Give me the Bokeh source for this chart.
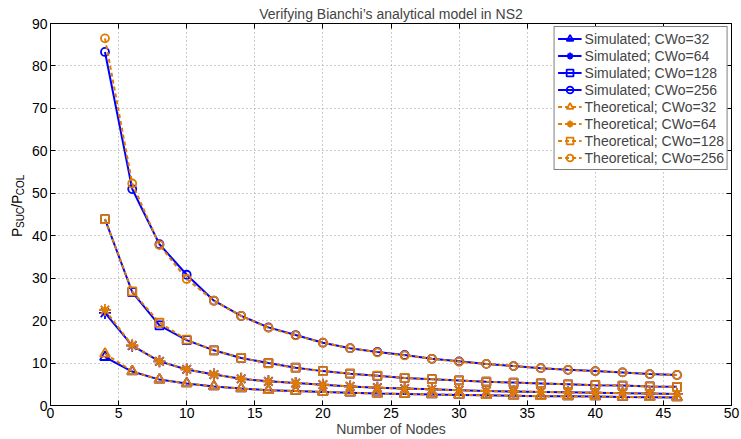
import math
from bokeh.plotting import figure
from bokeh.models import (Range1d, LinearAxis, Legend, LegendItem, FixedTicker)
from bokeh.layouts import row
from bokeh.core.properties import value
from bokeh.embed import file_html
from bokeh.resources import INLINE

nodes = [4, 6, 8, 10, 12, 14, 16, 18, 20, 22, 24, 26, 28, 30, 32, 34, 36, 38, 40, 42, 44, 46]

sim_32 = [11.4, 8.0, 6.1, 5.2, 4.5, 4.0, 3.6, 3.4, 3.2, 3.0, 2.8, 2.7, 2.6, 2.5, 2.4, 2.3, 2.2, 2.15, 2.1, 2.0, 1.95, 1.9]
sim_64 = [21.8, 14.1, 10.4, 8.5, 7.3, 6.3, 5.7, 5.3, 4.9, 4.5, 4.2, 4.0, 3.8, 3.6, 3.4, 3.3, 3.2, 3.1, 3.0, 2.9, 2.8, 2.7]
sim_128 = [43.9, 26.7, 18.9, 15.4, 13.0, 11.2, 10.0, 8.9, 8.1, 7.5, 7.0, 6.5, 6.2, 5.9, 5.6, 5.4, 5.2, 5.0, 4.8, 4.7, 4.5, 4.4]
sim_256 = [83.3, 51.0, 38.0, 30.8, 24.7, 21.1, 18.4, 16.6, 14.8, 13.5, 12.6, 11.9, 11.0, 10.4, 9.8, 9.3, 8.8, 8.4, 8.1, 7.8, 7.4, 7.2]

th_32 = [12.2, 8.1, 6.1, 5.2, 4.5, 4.0, 3.6, 3.4, 3.2, 3.0, 2.8, 2.7, 2.6, 2.5, 2.4, 2.3, 2.2, 2.15, 2.1, 2.0, 1.95, 1.9]
th_64 = [22.5, 14.2, 10.4, 8.5, 7.3, 6.3, 5.7, 5.3, 4.9, 4.5, 4.2, 4.0, 3.8, 3.6, 3.4, 3.3, 3.2, 3.1, 3.0, 2.9, 2.8, 2.7]
th_128 = [43.9, 26.9, 19.5, 15.5, 13.0, 11.2, 9.95, 8.85, 8.1, 7.5, 7.05, 6.5, 6.2, 5.9, 5.6, 5.4, 5.2, 5.0, 4.8, 4.7, 4.5, 4.4]
th_256 = [86.5, 52.3, 37.8, 29.8, 24.7, 21.1, 18.3, 16.5, 14.8, 13.5, 12.5, 11.8, 11.0, 10.3, 9.8, 9.3, 8.8, 8.4, 8.1, 7.8, 7.4, 7.2]

x_ticks = [0, 5, 10, 15, 20, 25, 30, 35, 40, 45, 50]
y_ticks = [0, 10, 20, 30, 40, 50, 60, 70, 80, 90]

title_text = "Verifying Bianchi\u2019s analytical model in NS2"
x_label = "Number of Nodes"
y_label_parts = ["P", "SUC", "/P", "COL"]

FONT = "Liberation Sans"
BLUE = "#0000ff"
ORANGE = "#e07b00"

# ---- y label strip (rotated, with subscripts) ----
yl = figure(width=28, height=439, output_backend="svg", toolbar_location=None,
            x_range=Range1d(0, 28), y_range=Range1d(0, 439),
            min_border=0, min_border_left=0, min_border_right=0,
            min_border_top=0, min_border_bottom=0)
yl.axis.visible = False
yl.grid.visible = False
yl.outline_line_color = None
yl.background_fill_color = "white"
yl.border_fill_color = "white"

sizes = ["14px", "10px", "14px", "10px"]
ems = [0.667, 2.111, 0.945, 2.056]
shift = [0, 4, 0, 4]
px = [14, 10, 14, 10]
widths = [e * s * 1.1 for e, s in zip(ems, px)]
total = sum(widths)
pos = 229 - total / 2
for t, fs, w, sh in zip(y_label_parts, sizes, widths, shift):
    yl.text(x=[16 + sh], y=[pos], text=[t], text_font=value(FONT),
            text_font_size=fs, angle=math.pi / 2, text_align="left",
            text_baseline="alphabetic", text_color="black")
    pos += w

# ---- main plot ----
p = figure(width=713, height=439, output_backend="svg", toolbar_location=None,
           x_range=Range1d(0, 50), y_range=Range1d(0, 90),
           min_border_left=22, min_border_right=10, min_border_top=23,
           min_border_bottom=0, background_fill_color="white",
           border_fill_color="white")
p.title.text = title_text
p.title.text_font = FONT
p.title.text_font_size = "14px"
p.title.text_font_style = "normal"
p.title.align = "center"
p.title.standoff = 4
p.title.offset = 0

p.outline_line_color = "black"
p.outline_line_width = 1

for ax in p.xaxis + p.yaxis:
    ax.major_tick_in = 5
    ax.major_tick_out = 0
    ax.minor_tick_line_color = None
    ax.axis_line_color = "black"
    ax.major_label_text_font = FONT
    ax.major_label_text_font_size = "14px"
    ax.major_label_text_color = "black"
    ax.major_label_standoff = 3
p.xaxis.ticker = FixedTicker(ticks=x_ticks)
p.yaxis.ticker = FixedTicker(ticks=y_ticks)
p.xaxis.axis_label = x_label
p.xaxis.axis_label_text_font = FONT
p.xaxis.axis_label_text_font_size = "14px"
p.xaxis.axis_label_text_font_style = "normal"
p.xaxis.axis_label_standoff = 0
p.xaxis.major_label_standoff = 2

top_ax = LinearAxis(ticker=FixedTicker(ticks=x_ticks), major_label_text_font_size="0px",
                    major_tick_in=5, major_tick_out=0, minor_tick_line_color=None,
                    major_label_standoff=0)
right_ax = LinearAxis(ticker=FixedTicker(ticks=y_ticks), major_label_text_font_size="0px",
                      major_tick_in=5, major_tick_out=0, minor_tick_line_color=None,
                      major_label_standoff=0)
top_ax.major_label_text_color = None
right_ax.major_label_text_color = None
p.add_layout(top_ax, "above")
p.add_layout(right_ax, "right")

p.xgrid.ticker = FixedTicker(ticks=x_ticks)
p.ygrid.ticker = FixedTicker(ticks=y_ticks)
for g in p.xgrid + p.ygrid:
    g.grid_line_color = "#9a9a9a"
    g.grid_line_dash = "1 3"
    g.grid_line_width = 1

markers = ["triangle", "asterisk", "square", "circle"]
msize = {"triangle": 10, "asterisk": 12, "square": 8, "circle": 8}
sims = [sim_32, sim_64, sim_128, sim_256]
ths = [th_32, th_64, th_128, th_256]
cws = ["32", "64", "128", "256"]

sim_items = []
th_items = []
for m, ys, cw in zip(markers, sims, cws):
    l = p.line(nodes, ys, line_color=BLUE, line_width=2)
    s = p.scatter(nodes, ys, marker=m, size=msize[m], line_color=BLUE, line_width=1.8,
                  fill_color=None)
    sim_items.append(LegendItem(label="Simulated; CWo=" + cw, renderers=[l, s]))
for m, ys, cw in zip(markers, ths, cws):
    l = p.line(nodes, ys, line_color=ORANGE, line_width=2, line_dash="4 3")
    s = p.scatter(nodes, ys, marker=m, size=msize[m], line_color=ORANGE, line_width=1.8,
                  fill_color=None)
    th_items.append(LegendItem(label="Theoretical; CWo=" + cw, renderers=[l, s]))

legend = Legend(items=sim_items + th_items, location="top_right",
                label_text_font=FONT, label_text_font_size="14px",
                label_height=17, glyph_height=17, glyph_width=24, spacing=0,
                padding=3, margin=3, label_standoff=3,
                border_line_color="black", border_line_width=1,
                background_fill_alpha=1)
p.add_layout(legend)

layout = row(yl, p, spacing=0)
open("out.html", "w").write(file_html(layout, INLINE))
